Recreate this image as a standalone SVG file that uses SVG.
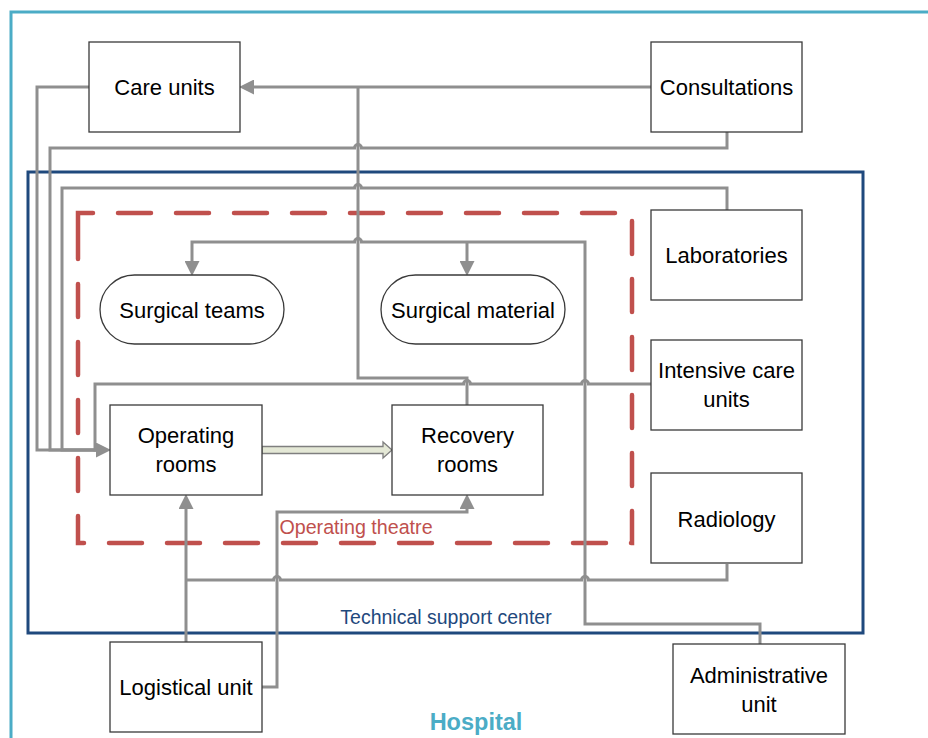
<svg xmlns="http://www.w3.org/2000/svg" width="928" height="738" viewBox="0 0 928 738">
<style>
.box{fill:#fff;stroke:#3a3a3a;stroke-width:1.3}
.t{font-family:"Liberation Sans",Arial,sans-serif;font-size:22px;fill:#000;text-anchor:middle}
.c{fill:none;stroke:#8f8f8f;stroke-width:3;stroke-linejoin:miter}
</style>
<defs>
<marker id="ah" markerUnits="userSpaceOnUse" markerWidth="15" markerHeight="15" viewBox="0 0 14 14" refX="0" refY="7" orient="auto">
<path d="M0,0 L14,7 L0,14 Z" fill="#8f8f8f"/>
</marker>
</defs>
<g id="frames">
<path d="M11,745 V12 H935" fill="none" stroke="#4bacc6" stroke-width="3"/>
<rect x="28" y="172" width="835" height="461" fill="none" stroke="#1f497d" stroke-width="3"/>
<path d="M78,231 V213 H632 V543 H78 Z" fill="none" stroke="#c0504d" stroke-width="4.5" stroke-dasharray="33 25" stroke-linecap="round"/>
<text x="476" y="730" font-family="'Liberation Sans',Arial,sans-serif" font-size="23.5" font-weight="bold" fill="#4bacc6" text-anchor="middle">Hospital</text>
<text x="446" y="624" font-family="'Liberation Sans',Arial,sans-serif" font-size="19.5" fill="#1f497d" text-anchor="middle">Technical support center</text>
<text x="356" y="534" font-family="'Liberation Sans',Arial,sans-serif" font-size="19.7" fill="#c0504d" text-anchor="middle">Operating theatre</text>
</g>
<g id="connectors">
<path class="c" d="M651,87 H254" marker-end="url(#ah)"/>
<path class="c" d="M467,405 V378 H358 V87"/>
<path class="c" d="M727,132 V148 H361.5 a3.5,3.5 0 0 0 -7,0 H50 V450 H96" marker-end="url(#ah)"/>
<path class="c" d="M89,87 H37 V450 H96"/>
<path class="c" d="M727,210 V188 H361.5 a3.5,3.5 0 0 0 -7,0 H62 V450 H96"/>
<path class="c" d="M651,384 H588.5 a3.5,3.5 0 0 0 -7,0 H470.5 a3.5,3.5 0 0 0 -7,0 H95 V450 H96"/>
<path class="c" d="M760,644 V624 H585 V242 H361.5 a3.5,3.5 0 0 0 -7,0 H192 V261" marker-end="url(#ah)"/>
<path class="c" d="M467,242 V261" marker-end="url(#ah)"/>
<path class="c" d="M727,564 V580 H588.5 a3.5,3.5 0 0 0 -7,0 H280.5 a3.5,3.5 0 0 0 -7,0 H186"/>
<path class="c" d="M186,642 V509" marker-end="url(#ah)"/>
<path class="c" d="M262,687 H277 V512 H467 V509" marker-end="url(#ah)"/>
<path d="M262,446.5 H383 V442 L392,450 L383,458 V453.5 H262 Z" fill="#e4e8d6" stroke="#7f7f7f" stroke-width="1.3" stroke-linejoin="miter"/>
</g>
<g id="care-units">
<rect class="box" x="89" y="42" width="151" height="90"/>
<text class="t" x="164.5" y="95">Care units</text>
</g>
<g id="consultations">
<rect class="box" x="651" y="42" width="151" height="90"/>
<text class="t" x="726.5" y="95">Consultations</text>
</g>
<g id="laboratories">
<rect class="box" x="651" y="210" width="151" height="90"/>
<text class="t" x="726.5" y="263">Laboratories</text>
</g>
<g id="intensive-care-units">
<rect class="box" x="651" y="340" width="151" height="90"/>
<text class="t" x="726.5" y="378">Intensive care</text>
<text class="t" x="726.5" y="407">units</text>
</g>
<g id="radiology">
<rect class="box" x="651" y="473" width="151" height="90"/>
<text class="t" x="726.5" y="527">Radiology</text>
</g>
<g id="administrative-unit">
<rect class="box" x="673" y="644" width="172" height="90"/>
<text class="t" x="759" y="683">Administrative</text>
<text class="t" x="759" y="712">unit</text>
</g>
<g id="logistical-unit">
<rect class="box" x="110" y="642" width="152" height="90"/>
<text class="t" x="186" y="695">Logistical unit</text>
</g>
<g id="operating-rooms">
<rect class="box" x="110" y="405" width="152" height="90"/>
<text class="t" x="186" y="443">Operating</text>
<text class="t" x="186" y="472">rooms</text>
</g>
<g id="recovery-rooms">
<rect class="box" x="392" y="405" width="151" height="90"/>
<text class="t" x="467.5" y="443">Recovery</text>
<text class="t" x="467.5" y="472">rooms</text>
</g>
<g id="surgical-teams">
<rect class="box" x="100" y="275" width="184" height="69" rx="34.5" ry="34.5"/>
<text class="t" x="192" y="318">Surgical teams</text>
</g>
<g id="surgical-material">
<rect class="box" x="381" y="275" width="184" height="69" rx="34.5" ry="34.5"/>
<text class="t" x="473" y="318">Surgical material</text>
</g>
</svg>
